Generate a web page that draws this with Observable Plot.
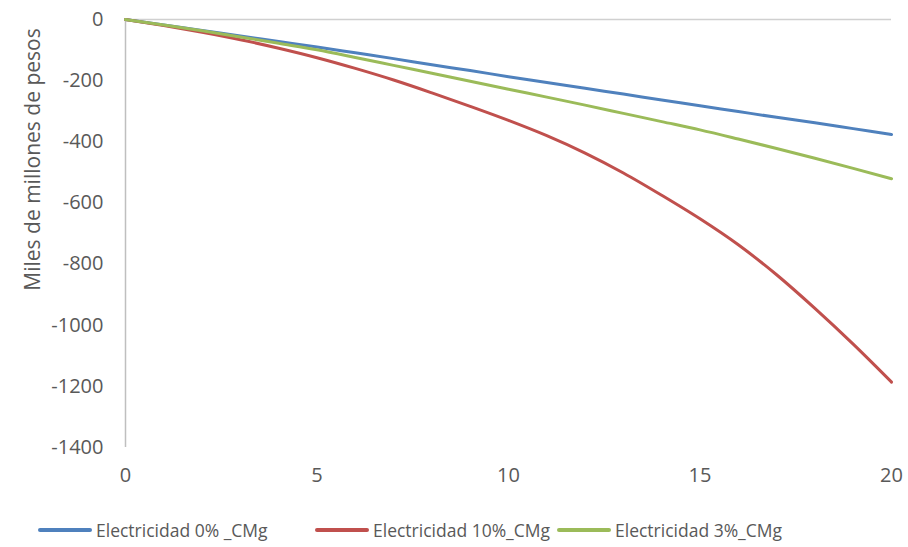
<!DOCTYPE html>
<html>
<head>
<meta charset="utf-8">
<script src="https://cdn.jsdelivr.net/npm/d3@7"></script>
<script src="https://cdn.jsdelivr.net/npm/@observablehq/plot@0.6"></script>
<style>
  html, body { margin: 0; padding: 0; background: #fff; }
  body { width: 908px; height: 547px; overflow: hidden; font-family: "Open Sans", sans-serif; }
  #legend { position: relative; height: 47px; font-size: 17.5px; color: #595959; }
  .item { position: absolute; top: 18px; display: flex; align-items: center; white-space: nowrap; }
  .sw { width: 54px; height: 4px; border-radius: 2px; margin-right: 4px; }
</style>
</head>
<body>
<div id="chart"></div>
<div id="legend"></div>
<script>
const years = [0,1,2,3,4,5,6,7,8,9,10,11,12,13,14,15,16,17,18,19,20];
const seriesNames = ["Electricidad 0% _CMg", "Electricidad 10%_CMg", "Electricidad 3%_CMg"];
const seriesColors = ["#4F81BD", "#C0504D", "#9BBB59"];
const elec0 = [0,-18,-36,-54,-72,-90,-109,-128,-148,-167,-187,-206,-225,-244,-263,-282,-301,-320,-338,-357,-376];
const elec10 = [0,-20,-42,-66,-94,-125,-160,-198,-240,-284,-330,-380,-437,-502,-575,-652,-737,-835,-945,-1062,-1186];
const elec3 = [0,-18,-37,-57,-78,-99,-124,-150,-176,-202,-228,-254,-280,-307,-334,-361,-391,-422,-454,-487,-521];
const yTicks = [0,-200,-400,-600,-800,-1000,-1200,-1400];
const xTicks = [0,5,10,15,20];
const yTitle = "Miles de millones de pesos";

const allSeries = [elec0, elec10, elec3];
const data = [];
allSeries.forEach((vals, i) => vals.forEach((v, j) => data.push({x: years[j], y: v, s: seriesNames[i]})));

const chart = Plot.plot({
  width: 908,
  height: 500,
  marginLeft: 125,
  marginRight: 17,
  marginTop: 19,
  marginBottom: 53,
  style: {fontFamily: "Open Sans, sans-serif", fontSize: "20px", color: "#595959", background: "#fff", overflow: "visible"},
  x: {domain: [0, 20]},
  y: {domain: [-1400, 0]},
  color: {domain: seriesNames, range: seriesColors},
  marks: [
    Plot.ruleX([0], {stroke: "#BFBFBF", strokeWidth: 1.5}),
    Plot.ruleY([0], {stroke: "#D0D0D0", strokeWidth: 1.5}),
    Plot.axisX({ticks: xTicks, tickSize: 0, tickPadding: 20, label: null, fill: "#595959", tickFormat: d => String(d)}),
    Plot.axisY({ticks: yTicks, tickSize: 0, tickPadding: 22, label: null, fill: "#595959", tickFormat: d => String(d)}),
    Plot.line(data, {x: "x", y: "y", z: "s", stroke: "s", strokeWidth: 3, curve: "monotone-x"}),
    Plot.text([yTitle], {frameAnchor: "left", textAnchor: "middle", rotate: -90, dx: -92, dy: -74, fontSize: 21, fill: "#595959"})
  ]
});
document.getElementById("chart").appendChild(chart);

const leg = document.getElementById("legend");
const legLeft = [38, 315, 557];
seriesNames.forEach((n, i) => {
  const it = document.createElement("div");
  it.className = "item";
  it.style.left = legLeft[i] + "px";
  const sw = document.createElement("div");
  sw.className = "sw";
  sw.style.background = seriesColors[i];
  const t = document.createElement("span");
  t.textContent = n;
  it.appendChild(sw); it.appendChild(t);
  leg.appendChild(it);
});
</script>
</body>
</html>
